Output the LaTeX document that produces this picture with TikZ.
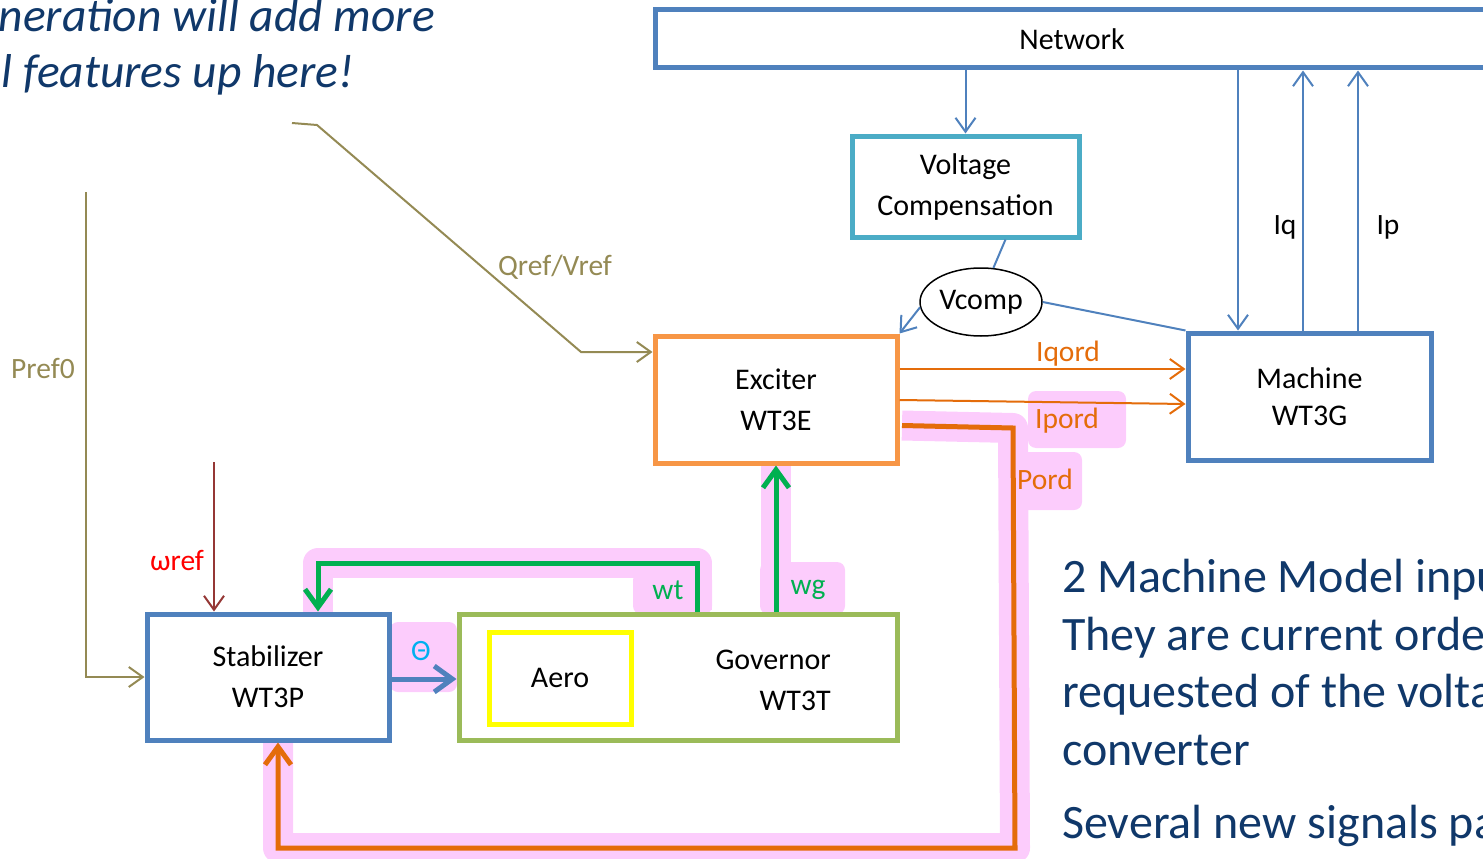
\documentclass[tikz,border=0pt]{standalone}
\usepackage{fontspec}
\setmainfont{Carlito}
\usetikzlibrary{arrows.meta,shapes.geometric,calc,backgrounds}
\definecolor{boxblue}{HTML}{4F81BD}
\definecolor{boxcyan}{HTML}{4BACC6}
\definecolor{boxorange}{HTML}{F79646}
\definecolor{govgreen}{HTML}{9BBB59}
\definecolor{aeroyellow}{HTML}{FFFF00}
\definecolor{oliveln}{HTML}{948A54}
\definecolor{darkredln}{HTML}{953735}
\definecolor{redtxt}{HTML}{FF0000}
\definecolor{orgline}{HTML}{E46C0A}
\definecolor{sigreen}{HTML}{00B050}
\definecolor{thetacol}{HTML}{00B0F0}
\definecolor{pinkc}{RGB}{252,204,252}
\definecolor{darkbluetxt}{RGB}{16,56,106}
\newcommand\lblfont{\fontsize{30}{41}\selectfont}
\newcommand\sigfont{\fontsize{29.5}{34}\selectfont}
\newcommand\bigfont{\fontsize{48}{58}\selectfont}
\newcommand\italfont{\fontsize{47.5}{56}\selectfont\itshape}
\tikzset{
  box/.style={draw, line width=5pt, inner sep=0pt, align=center, font=\lblfont},
  thinln/.style={line width=2pt},
  thinarr/.style={line width=2pt, -{Straight Barb[length=14pt,width=20pt]}},
  thickarr/.style={line width=5pt, -{Straight Barb[length=18pt,width=26pt]}},
  pinkband/.style={draw=pinkc, line width=30pt, line join=round},
  siglbl/.style={inner sep=0pt, font=\sigfont},
  bigtxt/.style={inner sep=0pt, font=\bigfont, text=darkbluetxt},
  italtxt/.style={inner sep=0pt, font=\italfont, text=darkbluetxt},
  pinkbox/.style={fill=pinkc, rounded corners=8pt}
}
\begin{document}
\begin{tikzpicture}[x=1pt,y=-1pt]
\useasboundingbox (0,0) rectangle (1483,859);
\clip (0,0) rectangle (1483,859);

% nodes
\node[box, draw=boxblue, minimum width=834, minimum height=58] (net) at (1072,39) {Network};
\node[box, draw=boxcyan, minimum width=227, minimum height=101] (vc) at (965.5,186.5) {Voltage\\Compensation};
\node[ellipse, draw=black, line width=1.5pt, minimum width=122, minimum height=68, inner sep=0pt, font=\lblfont] (vcomp) at (981,302) {Vcomp};
\node[box, draw=boxorange, minimum width=242, minimum height=127] (exc) at (776,399.5) {Exciter\\WT3E};
\node[box, draw=boxblue, minimum width=243, minimum height=127, font=\fontsize{30}{37}\selectfont] (mach) at (1309.5,396.5) {Machine\\WT3G};
\node[box, draw=boxblue, minimum width=242, minimum height=126] (stab) at (268,677) {Stabilizer\\WT3P};
\node[box, draw=govgreen, minimum width=438, minimum height=126] (gov) at (678,677) {};
\node[box, draw=aeroyellow, minimum width=142, minimum height=92] (aero) at (560,678) {Aero};
\node[font=\lblfont, align=right, anchor=east, inner sep=0pt] (govlbl) at (831,680) {Governor\\WT3T};

% coordinates
\coordinate (mq) at ($(mach.north)+(-71.5,0)$);
\coordinate (mi) at ($(mach.north)+(-6.5,0)$);
\coordinate (mp) at ($(mach.north)+(48.5,0)$);
\coordinate (pd1) at ($(exc.east)+(2.5,26)$);
\coordinate (pd2) at (1013,428);
\coordinate (pd3) at (1015,848);
\coordinate (pd4) at ($(stab.south)+(10,0)$);
\coordinate (wt1) at ($(gov.north)+(19,0)$);
\coordinate (wtop) at (0,563);
\coordinate (wt3) at ($(stab.north)+(50,0)$);
\coordinate (wr) at (214,462);
\coordinate (p0) at (86,192);
\coordinate (q0) at (292,123);
\coordinate (q1) at (317,125);
\coordinate (q2) at (581,352);

% pink highlights
\begin{scope}[on background layer]
\fill[pinkbox] (1028,391) rectangle (1126,448);
\fill[pinkbox] (1000,452) rectangle (1082,510);
\fill[pinkbox] (633,572) rectangle (712,614);
\fill[pinkbox] (760,562) rectangle (845,614);
\fill[pinkbox] (390,622) rectangle (457,692);
\draw[pinkband] (pd1) -- (pd2) -- (pd3) -- (pd4 |- pd3) -- ($(pd4)+(0,-2)$);
\draw[pinkband] ($(wt1)+(0,-2)$) -- (wt1 |- wtop) -- (wt3 |- wtop) -- ($(wt3)+(0,2)$);
\draw[pinkband] ($(exc.south |- gov.north)+(0,-2)$) -- (exc.south);
\end{scope}

% connectors
\draw[thinarr, draw=boxblue] (vc.north |- net.south) -- (vc.north);
\draw[thinln, draw=boxblue] ($(vc.south)+(40,0)$) -- (vcomp.70);
\draw[thinarr, draw=boxblue] (vcomp.185) -- (exc.north east);
\draw[thinln, draw=boxblue] (vcomp.east) -- (mach.north west);
\draw[thinarr, draw=boxblue] (mq |- net.south) -- (mq);
\draw[thinarr, draw=boxblue] (mi) -- (mi |- net.south);
\draw[thinarr, draw=boxblue] (mp) -- (mp |- net.south);
\node[siglbl] (iq) at (1285,227) {Iq};
\node[siglbl] (ip) at (1388,227) {Ip};

\draw[thinarr, draw=orgline] ($(exc.east)+(0,-30.5)$) -- ($(mach.west)+(0,-27.5)$);
\draw[thinarr, draw=orgline] ($(exc.east)+(0,0.5)$) -- ($(mach.west)+(0,7.5)$);
\node[siglbl, text=orgline] (iqord) at (1068,354) {Iqord};
\node[siglbl, text=orgline] (ipord) at (1067,421) {Ipord};
\node[siglbl, text=orgline] (pord) at (1045,479) {Pord};

\draw[thickarr, draw=orgline] (pd1) -- (pd2) -- (pd3) -- (pd4 |- pd3) -- (pd4);
\draw[thickarr, draw=sigreen] (wt1) -- (wt1 |- wtop) -- (wt3 |- wtop) -- (wt3);
\draw[thickarr, draw=sigreen] (exc.south |- gov.north) -- (exc.south);
\draw[thickarr, draw=boxblue] ($(stab.east)+(0,2)$) -- ($(gov.west)+(0,2)$);
\node[siglbl, text=sigreen] (wtl) at (668,590) {wt};
\node[siglbl, text=sigreen] (wgl) at (808,590) {wg};
\node[siglbl, text=thetacol] (thl) at (421,651) {Θ};

\draw[thinarr, draw=darkredln] (wr) -- (wr |- stab.north);
\node[siglbl, text=redtxt] (wrefl) at (177,560) {ωref};
\draw[thinarr, draw=oliveln] (p0) |- (stab.west);
\node[siglbl, text=oliveln] (pref) at (43,368) {Pref0};
\draw[thinarr, draw=oliveln] (q0) -- (q1) -- (q2) -- (q2 -| exc.west);
\node[siglbl, text=oliveln] (qref) at (555,267) {Qref/Vref};

% free text
\node[italtxt, anchor=base east] (it1) at (435,32) {neration will add more};
\node[italtxt, anchor=base east] (it2) at (354,88) {l features up here!};
\node[bigtxt, anchor=base west] (b1) at (1062,592) {2 Machine Model inpu};
\node[bigtxt, anchor=base west] (b2) at (1062,650) {They are current orde};
\node[bigtxt, anchor=base west] (b3) at (1062,707) {requested of the volta};
\node[bigtxt, anchor=base west] (b4) at (1062,765) {converter};
\node[bigtxt, anchor=base west] (b5) at (1062,838) {Several new signals pa};
\end{tikzpicture}
\end{document}
